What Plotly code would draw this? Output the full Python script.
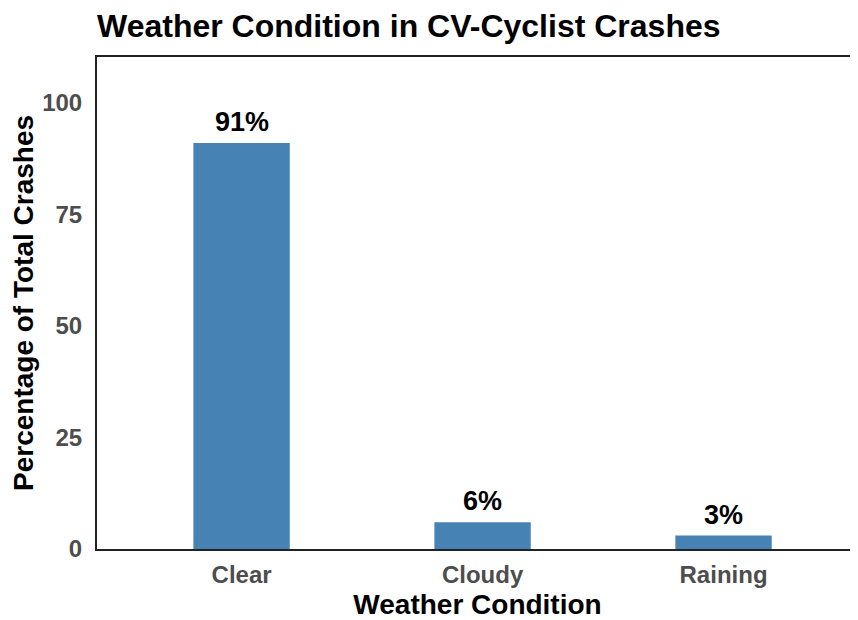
import plotly.graph_objects as go

conditions = ["Clear", "Cloudy", "Raining"]
percentages = [91, 6, 3]
labels = ["91%", "6%", "3%"]

font_family = "Arial, Liberation Sans, sans-serif"

# the page body adds an 8px margin, so the figure is 8px smaller
W, H = 850, 612

fig = go.Figure()
fig.add_trace(go.Bar(
    x=conditions,
    y=percentages,
    width=0.4,
    marker=dict(color="#4682B4", line=dict(width=0)),
    showlegend=False,
))

# value labels above the bars
for c, v, t in zip(conditions, percentages, labels):
    fig.add_annotation(
        x=c, y=v, text=t, showarrow=False,
        yanchor="bottom", yshift=4,
        font=dict(family=font_family, size=27, color="black", weight="bold"),
    )

fig.update_layout(
    width=W,
    height=H,
    plot_bgcolor="white",
    paper_bgcolor="white",
    margin=dict(l=89, r=0, t=49, b=71),
    title=dict(
        text="Weather Condition in CV-Cyclist Crashes",
        font=dict(family=font_family, size=32, color="black", weight="bold"),
        xref="paper", x=0, xanchor="left",
        yref="container", y=1 - 29 / H, yanchor="bottom",
    ),
    xaxis=dict(
        range=[-0.6, 2.558],
        showgrid=False,
        showline=True, linecolor="#222222", linewidth=2, mirror=True,
        ticks="",
        ticklabelstandoff=3,
        tickfont=dict(family=font_family, size=24, color="#4D4D4D", weight="bold"),
        title=dict(text="Weather Condition", standoff=10,
                   font=dict(family=font_family, size=28, color="black", weight="bold")),
    ),
    yaxis=dict(
        range=[0, 110.3],
        tickvals=[0, 25, 50, 75, 100],
        showgrid=False, zeroline=False,
        showline=True, linecolor="#222222", linewidth=2,
        ticks="",
        ticklabelstandoff=8,
        tickfont=dict(family=font_family, size=24, color="#4D4D4D", weight="bold"),
        title=dict(text="Percentage of Total Crashes", standoff=8,
                   font=dict(family=font_family, size=28, color="black", weight="bold")),
    ),
)

fig.write_html("out.html")
